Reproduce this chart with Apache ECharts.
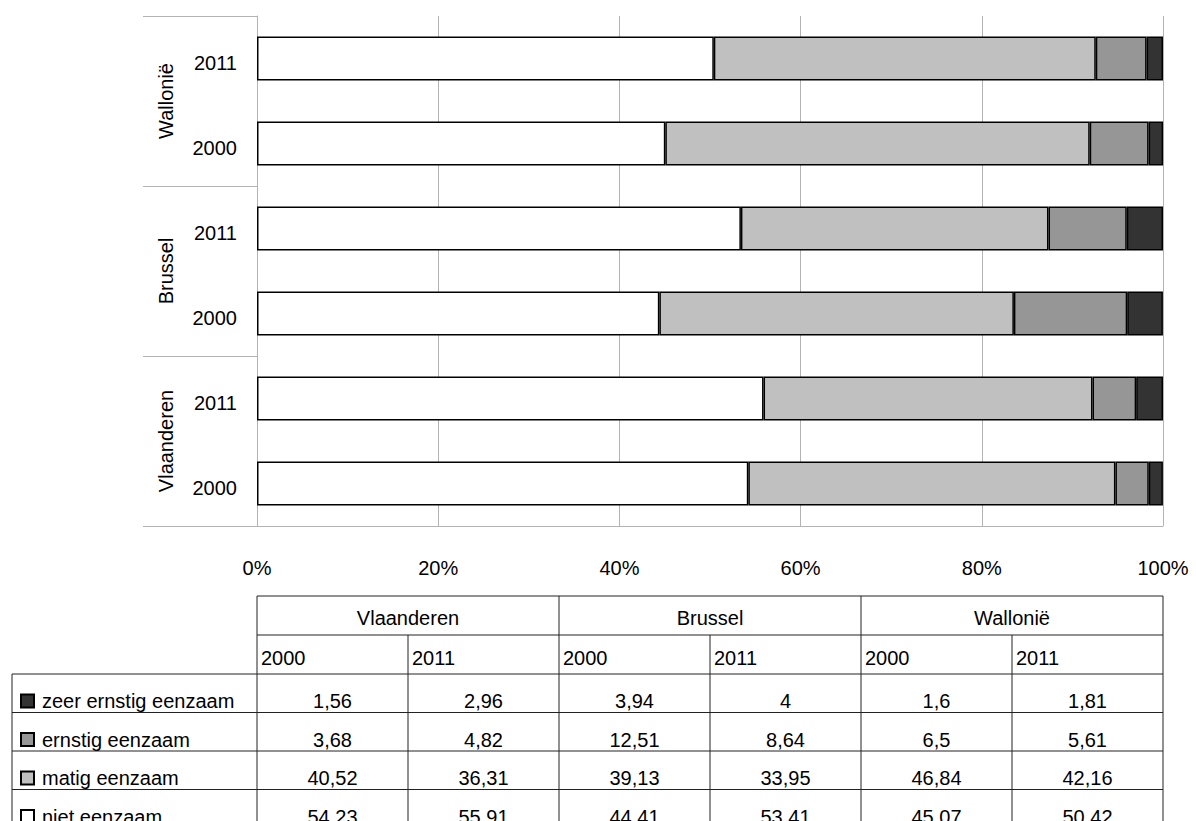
<!DOCTYPE html>
<html>
<head>
<meta charset="utf-8">
<script src="https://cdn.jsdelivr.net/npm/echarts@6/dist/echarts.min.js"></script>
<style>
html,body{margin:0;padding:0;background:#fff;}
#chart{width:1196px;height:821px;}
</style>
</head>
<body>
<div id="chart"></div>
<script>
// ---- data ----
const regions = ['Vlaanderen', 'Brussel', 'Wallonië'];
const years = ['2000', '2011'];
const seriesNames = ['niet eenzaam', 'matig eenzaam', 'ernstig eenzaam', 'zeer ernstig eenzaam'];
// order of bars: Vlaanderen 2000, Vlaanderen 2011, Brussel 2000, Brussel 2011, Wallonië 2000, Wallonië 2011
const nietEenzaam = [54.23, 55.91, 44.41, 53.41, 45.07, 50.42];
const matigEenzaam = [40.52, 36.31, 39.13, 33.95, 46.84, 42.16];
const ernstigEenzaam = [3.68, 4.82, 12.51, 8.64, 6.5, 5.61];
const zeerErnstigEenzaam = [1.56, 2.96, 3.94, 4, 1.6, 1.81];
const xTickValues = [0, 20, 40, 60, 80, 100];

// ---- styles ----
const FONT = 'Liberation Sans, Arial, sans-serif';
const FS = 20;
const colors = ['#ffffff', '#c0c0c0', '#969696', '#333333'];
const gridColor = '#b3b3b3';
const lineColor = '#222222';

const G = { left: 257, right: 33, top: 16, bottom: 295 };
const W = 1196, H = 821;
const plotW = W - G.left - G.right;

const categories = [];
regions.forEach(r => years.forEach(y => categories.push(r + '|' + y)));
const seriesData = [nietEenzaam, matigEenzaam, ernstigEenzaam, zeerErnstigEenzaam];

// ---- table (graphic) ----
const tableTop = 596, hdrH = 39, rowH = 38.5, legendLeft = 12;
const colW = plotW / 6;
const fmt = v => String(v).replace('.', ',');
const graphics = [];
function hLine(x1, x2, y) {
  graphics.push({ type: 'line', silent: true, shape: { x1, y1: y, x2, y2: y }, style: { stroke: lineColor, lineWidth: 1 } });
}
function vLine(x, y1, y2) {
  graphics.push({ type: 'line', silent: true, shape: { x1: x, y1, x2: x, y2 }, style: { stroke: lineColor, lineWidth: 1 } });
}
function txt(t, x, y, align) {
  graphics.push({ type: 'text', silent: true, style: { text: t, x, y, fill: '#000', font: FS + 'px ' + FONT, textAlign: align, textVerticalAlign: 'middle' } });
}
const tableRight = G.left + plotW;
const dataTop = tableTop + 2 * hdrH;
const nRows = seriesNames.length;
hLine(G.left, tableRight, tableTop);
hLine(G.left, tableRight, tableTop + hdrH);
for (let i = 0; i <= nRows; i++) hLine(legendLeft, tableRight, dataTop + i * rowH);
vLine(legendLeft, dataTop, H + 10);
for (let c = 0; c <= 6; c++) {
  const x = G.left + c * colW;
  vLine(x, c % 2 === 0 ? tableTop : tableTop + hdrH, H + 10);
}
regions.forEach((r, i) => txt(r, G.left + (2 * i + 1) * colW, tableTop + 22, 'center'));
categories.forEach((c, i) => txt(c.split('|')[1], G.left + i * colW + 4, tableTop + hdrH + 23, 'left'));
// rows top-to-bottom: zeer, ernstig, matig, niet
for (let r = 0; r < nRows; r++) {
  const sIdx = nRows - 1 - r;
  seriesData[sIdx].forEach((v, i) => txt(fmt(v), G.left + (i + 0.5) * colW, dataTop + r * rowH + 27, 'center'));
}

const option = {
  animation: false,
  backgroundColor: '#fff',
  textStyle: { fontFamily: FONT },
  grid: { left: G.left, right: G.right, top: G.top, bottom: G.bottom, containLabel: false },
  legend: {
    orient: 'vertical',
    left: 20,
    top: dataTop + 17,
    height: 400,
    padding: 0,
    itemGap: rowH - 20,
    itemWidth: 13,
    itemHeight: 13,
    icon: 'rect',
    data: seriesNames.slice().reverse(),
    textStyle: { fontSize: FS, color: '#000', fontFamily: FONT, lineHeight: 20, padding: [0, 0, 0, 3] },
    selectedMode: false
  },
  xAxis: {
    type: 'value',
    min: 0, max: 100, interval: 20,
    axisLine: { show: true, lineStyle: { color: gridColor, width: 1 } },
    axisTick: { show: false },
    splitLine: { show: true, lineStyle: { color: gridColor, width: 1 } },
    axisLabel: {
      fontSize: FS, color: '#000', fontFamily: FONT, margin: 32,
      formatter: v => xTickValues.includes(v) ? v + '%' : ''
    }
  },
  yAxis: [
    {
      type: 'category',
      data: categories,
      position: 'left',
      axisLine: { show: true, lineStyle: { color: gridColor, width: 1 } },
      axisTick: { show: false },
      axisLabel: {
        fontSize: FS, color: '#000', fontFamily: FONT, margin: 20,
        formatter: v => '{y|' + v.split('|')[1] + '}',
        rich: { y: { fontSize: FS, fontFamily: FONT, color: '#000', padding: [9, 0, 0, 0] } }
      }
    },
    {
      type: 'category',
      data: regions,
      position: 'left',
      offset: 0,
      axisLine: { show: false },
      axisTick: { show: true, length: 114, lineStyle: { color: gridColor, width: 1 } },
      axisLabel: { fontSize: FS, color: '#000', fontFamily: FONT, rotate: 90, margin: 81 }
    }
  ],
  series: seriesNames.map((name, i) => ({
    name,
    type: 'bar',
    stack: 'total',
    yAxisIndex: 0,
    barWidth: 44,
    data: seriesData[i],
    itemStyle: { color: colors[i], borderColor: '#000', borderWidth: 1.5 },
    emphasis: { disabled: true }
  })),
  graphic: graphics
};

const chart = echarts.init(document.getElementById('chart'), null, { renderer: 'svg', width: W, height: H });
chart.setOption(option);
</script>
</body>
</html>
